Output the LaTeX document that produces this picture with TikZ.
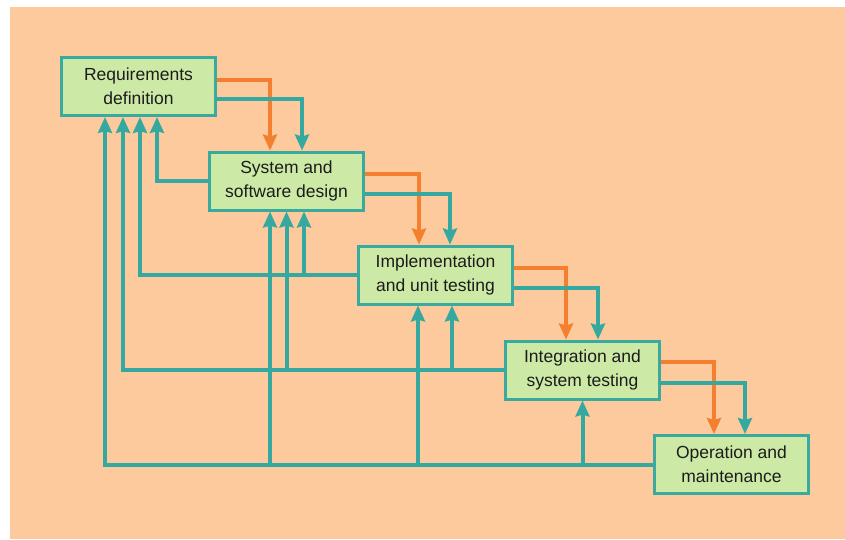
\documentclass[tikz,border=0pt]{standalone}
\usepackage{fontspec}
\setmainfont{Liberation Sans}
\usepackage{tikz}
\usetikzlibrary{arrows.meta}

\definecolor{peach}{HTML}{FCCA9C}
\definecolor{boxfill}{HTML}{CDE9A6}
\definecolor{boxedge}{HTML}{3AAA9E}
\definecolor{backteal}{HTML}{35A99F}
\definecolor{fwdorange}{HTML}{F47F2E}
\definecolor{textdark}{HTML}{1C1C1C}

\begin{document}
\begin{tikzpicture}[x=1pt, y=-1pt,
    stage/.style={draw=boxedge, fill=boxfill, line width=3pt, minimum width=154pt, minimum height=58pt,
        inner sep=0pt, align=center, text=textdark, font=\fontsize{17.5}{24}\selectfont},
    flow/.style={line width=4pt, line join=miter, -{Stealth[width=14pt,length=16pt,inset=2pt]}},
    fwd/.style={flow, draw=fwdorange},
    back/.style={flow, draw=backteal}]
                \useasboundingbox (0,0) rectangle (845,539);
                \fill[white] (0,0) rectangle (845,539);
                \fill[peach] (10,7) rectangle (845,539);

                \node[stage] (req) at (138.5,86.5) {Requirements\\definition};
                \node[stage] (sys) at (286.5,181) {System and\\software design};
                \node[stage] (impl) at (435.5,275) {Implementation\\and unit testing};
                \node[stage] (integ) at (582.5,370) {Integration and\\system testing};
                \node[stage] (op) at (731.5,464.5) {Operation and\\maintenance};

                \draw[fwd] ([yshift=6.5pt]req.east) -| ([xshift=-16.5pt]sys.north);
                \draw[back] ([yshift=-12.5pt]req.east) -| ([xshift=15.5pt]sys.north);
                \draw[fwd] ([yshift=7pt]sys.east) -| ([xshift=-16.5pt]impl.north);
                \draw[back] ([yshift=-13pt]sys.east) -| ([xshift=14.5pt]impl.north);
                \draw[fwd] ([yshift=7pt]impl.east) -| ([xshift=-16.5pt]integ.north);
                \draw[back] ([yshift=-13pt]impl.east) -| ([xshift=15.5pt]integ.north);
                \draw[fwd] ([yshift=8pt]integ.east) -| ([xshift=-17.5pt]op.north);
                \draw[back] ([yshift=-13pt]integ.east) -| ([xshift=13.5pt]op.north);

                \draw[back] (sys.west) -| ([xshift=18.5pt]req.south);

                \draw[back] (impl.west) -| ([xshift=1.5pt]req.south);
                \draw[back] ([xshift=17.5pt]sys.south |- impl.west) -- ([xshift=17.5pt]sys.south);

                \draw[back] (integ.west) -| ([xshift=-15.5pt]req.south);
                \draw[back] (sys.south |- integ.west) -- (sys.south);
                \draw[back] ([xshift=16.5pt]impl.south |- integ.west) -- ([xshift=16.5pt]impl.south);

                \draw[back] (op.west) -| ([xshift=-33.5pt]req.south);
                \draw[back] ([xshift=-16.5pt]sys.south |- op.west) -- ([xshift=-16.5pt]sys.south);
                \draw[back] ([xshift=-17.5pt]impl.south |- op.west) -- ([xshift=-17.5pt]impl.south);
                \draw[back] (integ.south |- op.west) -- (integ.south);
\end{tikzpicture}
\end{document}
